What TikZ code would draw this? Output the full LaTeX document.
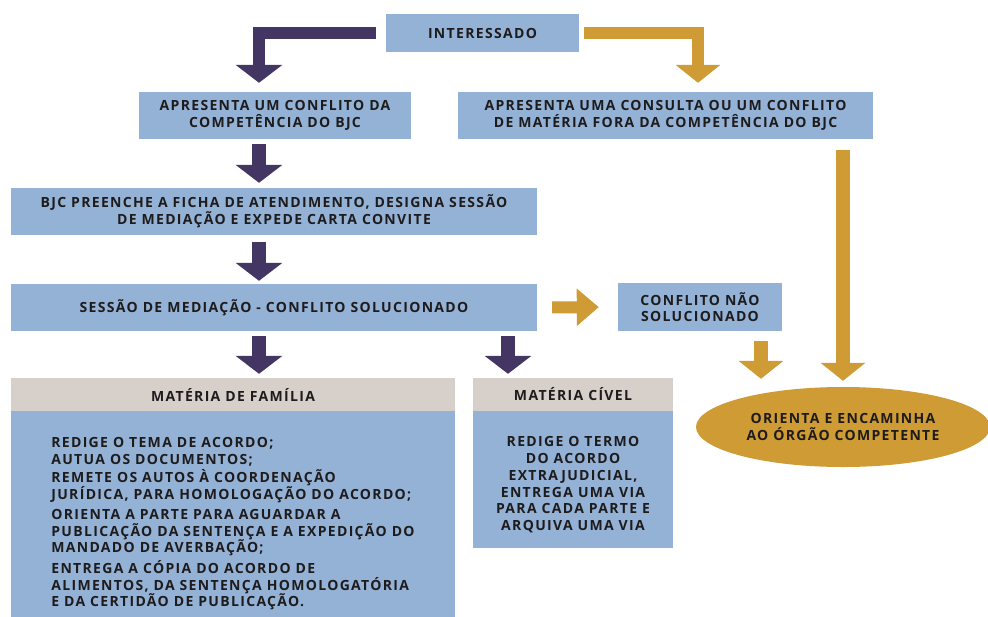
\documentclass[tikz,border=0pt]{standalone}
\usepackage{fontspec}
\newfontfamily\boxfont{Open Sans}[LetterSpace=9.5]
\usetikzlibrary{arrows.meta,shapes.geometric}

\definecolor{boxblue}{HTML}{94B2D6}
\definecolor{headgray}{HTML}{D7CFCA}
\definecolor{arrowpurple}{HTML}{433663}
\definecolor{arrowgold}{HTML}{CE9B34}
\definecolor{txtdark}{HTML}{1E1B1C}

\tikzset{
  stepbox/.style={fill=boxblue,draw=none,inner sep=0pt,align=center,text=txtdark,
    font=\boxfont\bfseries\fontsize{14}{16.7}\selectfont},
  headbox/.style={stepbox,fill=headgray},
  parrow/.style={draw=arrowpurple,line width=14pt,line join=miter,-{Triangle[width=46pt,length=18pt]}},
  garrow/.style={draw=arrowgold,line width=14pt,line join=miter,-{Triangle[width=44pt,length=18pt]}}
}

\begin{document}
\begin{tikzpicture}[x=1pt,y=-1pt]
  \useasboundingbox (0,0) rectangle (988,616);
  % caixas
  \node[stepbox,minimum width=193pt,minimum height=38pt] (int) at (482.5,33) {INTERESSADO};
  \node[stepbox,minimum width=272pt,minimum height=47pt] (compdo) at (275,115.5) {APRESENTA UM CONFLITO DA\\COMPETÊNCIA DO BJC};
  \node[stepbox,minimum width=415pt,minimum height=47pt] (fora) at (665.5,115.5) {APRESENTA UMA CONSULTA OU UM CONFLITO\\DE MATÉRIA FORA DA COMPETÊNCIA DO BJC};
  \node[stepbox,minimum width=526pt,minimum height=47pt] (ficha) at (274,211.5) {BJC PREENCHE A FICHA DE ATENDIMENTO, DESIGNA SESSÃO\\DE MEDIAÇÃO E EXPEDE CARTA CONVITE};
  \node[stepbox,minimum width=526pt,minimum height=47pt] (sessao) at (274,307.5) {SESSÃO DE MEDIAÇÃO - CONFLITO SOLUCIONADO};
  \node[stepbox,minimum width=164pt,minimum height=48pt] (naosol) at (700,307) {CONFLITO NÃO\\SOLUCIONADO};
  \node[headbox,minimum width=444pt,minimum height=33pt] (famhead) at (233,394.5) {MATÉRIA DE FAMÍLIA};
  \node[stepbox,minimum width=444pt,minimum height=225pt,align=left] (fambody) at (233,523.5)
    {REDIGE O TEMA DE ACORDO;\\[1pt]
     AUTUA OS DOCUMENTOS;\\[1pt]
     REMETE OS AUTOS À COORDENAÇÃO\\JURÍDICA, PARA HOMOLOGAÇÃO DO ACORDO;\\[3.5pt]
     ORIENTA A PARTE PARA AGUARDAR A\\PUBLICAÇÃO DA SENTENÇA E A EXPEDIÇÃO DO\\MANDADO DE AVERBAÇÃO;\\[4pt]
     ENTREGA A CÓPIA DO ACORDO DE\\ALIMENTOS, DA SENTENÇA HOMOLOGATÓRIA\\E DA CERTIDÃO DE PUBLICAÇÃO.};
  \node[headbox,minimum width=200pt,minimum height=33pt] (civhead) at (573,394.5) {MATÉRIA CÍVEL};
  \node[stepbox,minimum width=200pt,minimum height=137pt] (civbody) at (573,479.5)
    {\mbox{}\\[4pt]REDIGE O TERMO\\DO ACORDO\\EXTRAJUDICIAL,\\ENTREGA UMA VIA\\PARA CADA PARTE E\\ARQUIVA UMA VIA};
  \node[stepbox,ellipse,fill=arrowgold,minimum width=294pt,minimum height=80pt] (orienta) at (843,427)
    {ORIENTA E ENCAMINHA\\AO ÓRGÃO COMPETENTE};
  % setas
  \draw[parrow,line width=12pt,shorten <=10pt,shorten >=9pt] (int.west) -| ([xshift=-16pt]compdo.north);
  \draw[garrow,line width=12pt,shorten <=5pt,shorten >=9pt] (int.east) -| ([xshift=32.5pt]fora.north);
  \draw[parrow,shorten <=5pt,shorten >=5pt] ([xshift=-16pt]compdo.south) -- ([xshift=-15pt]ficha.north);
  \draw[parrow,shorten <=7pt,shorten >=3pt] ([xshift=-15pt]ficha.south) -- ([xshift=-15pt]sessao.north);
  \draw[parrow,shorten <=5pt,shorten >=4pt] ([xshift=-15pt]sessao.south) -- ([xshift=26pt]famhead.north);
  \draw[parrow,shorten <=5pt,shorten >=4pt] ([xshift=234pt]sessao.south) -- ([xshift=-65pt]civhead.north);
  \draw[garrow,line width=12pt,-{Triangle[width=36pt,length=22pt]},shorten <=15pt,shorten >=19pt] (sessao.east) -- (naosol.west);
  \draw[garrow,shorten <=10pt,shorten >=8pt] ([xshift=61pt]naosol.south) -- ([xshift=61pt]naosol.south |- orienta.north);
  \draw[garrow,shorten <=11pt,shorten >=6pt] (orienta.north |- fora.south) -- (orienta.north);
\end{tikzpicture}
\end{document}
